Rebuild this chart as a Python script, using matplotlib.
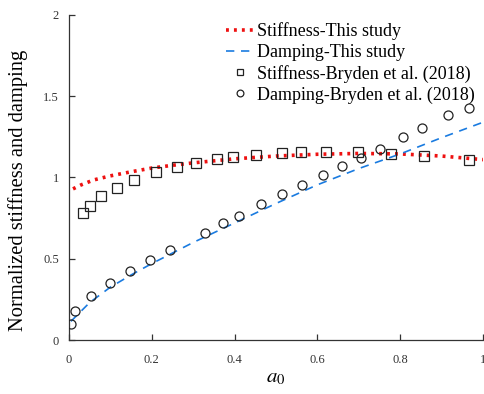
import matplotlib
matplotlib.use("Agg")
import matplotlib.pyplot as plt

# Model curves (this study)
stiff_x = [0.01, 0.03, 0.06, 0.10, 0.15, 0.20, 0.25, 0.30, 0.40, 0.50, 0.60, 0.70, 0.80, 0.90, 1.00]
stiff_y = [0.93, 0.955, 0.985, 1.01, 1.035, 1.058, 1.075, 1.09, 1.115, 1.132, 1.143, 1.148, 1.145, 1.132, 1.11]
damp_x = [0.005, 0.05, 0.10, 0.15, 0.20, 0.30, 0.40, 0.50, 0.60, 0.70, 0.80, 0.90, 1.00]
damp_y = [0.115, 0.23, 0.325, 0.40, 0.47, 0.60, 0.72, 0.84, 0.955, 1.055, 1.145, 1.245, 1.34]

# Bryden et al. (2018)
bry_stiff_x = [0.033, 0.051, 0.078, 0.115, 0.157, 0.21, 0.261, 0.306, 0.357, 0.396, 0.452,
               0.514, 0.56, 0.62, 0.698, 0.778, 0.857, 0.965]
bry_stiff_y = [0.78, 0.826, 0.886, 0.935, 0.982, 1.034, 1.066, 1.087, 1.116, 1.128, 1.14,
               1.151, 1.155, 1.157, 1.157, 1.145, 1.132, 1.11]
bry_damp_x = [0.004, 0.015, 0.054, 0.099, 0.147, 0.196, 0.245, 0.328, 0.373, 0.41, 0.464,
              0.514, 0.564, 0.614, 0.659, 0.705, 0.75, 0.807, 0.852, 0.915, 0.965]
bry_damp_y = [0.10, 0.18, 0.269, 0.349, 0.425, 0.492, 0.554, 0.658, 0.722, 0.765, 0.835,
              0.897, 0.954, 1.015, 1.073, 1.12, 1.175, 1.247, 1.303, 1.383, 1.43]

xticks = [0, 0.2, 0.4, 0.6, 0.8, 1]
xticklabels = ["0", "0.2", "0.4", "0.6", "0.8", "1"]
yticks = [0, 0.5, 1, 1.5, 2]
yticklabels = ["0", "0.5", "1", "1.5", "2"]

plt.rcParams['font.family'] = ['Liberation Serif', 'DejaVu Serif']
plt.rcParams['mathtext.fontset'] = 'stix'

fig = plt.figure(figsize=(4.85, 3.94), dpi=100)
ax = fig.add_axes([0.142, 0.137, 0.854, 0.825])

ax.plot(stiff_x, stiff_y, linestyle=(0, (0.8, 1.4)), color='#ee1111', lw=2.6,
        label='Stiffness-This study', zorder=3)
ax.plot(damp_x, damp_y, linestyle=(0, (5, 4)), color='#1a7be0', lw=1.2,
        label='Damping-This study', zorder=3)
ax.plot(bry_stiff_x, bry_stiff_y, linestyle='none', marker='s', ms=6.5, mfc='none',
        mec='#222222', mew=0.9, label='Stiffness-Bryden et al. (2018)', zorder=4)
ax.plot(bry_damp_x, bry_damp_y, linestyle='none', marker='o', ms=6.5, mfc='none',
        mec='#222222', mew=0.9, label='Damping-Bryden et al. (2018)', zorder=4)

ax.set_xlim(0, 1)
ax.set_ylim(0, 2)
ax.set_xticks(xticks)
ax.set_xticklabels(xticklabels)
ax.set_yticks(yticks)
ax.set_yticklabels(yticklabels)
ax.tick_params(direction='in', length=4, width=0.9, labelsize=9, colors='#333333')
ax.tick_params(axis='x', pad=10)
ax.tick_params(axis='y', pad=7)
for s in ['top', 'right']:
    ax.spines[s].set_visible(False)
for s in ['left', 'bottom']:
    ax.spines[s].set_color('#333333')
    ax.spines[s].set_linewidth(0.9)

ax.set_ylabel('Normalized stiffness and damping', fontsize=14.8, labelpad=8)
ax.yaxis.set_label_coords(-0.098, 0.46)
ax.set_xlabel(r'$a_0$', fontsize=15, labelpad=2)

leg = ax.legend(loc='upper right', bbox_to_anchor=(1.005, 1.01), frameon=False, fontsize=13,
                handlelength=1.6, handletextpad=0.1, labelspacing=0.2, markerscale=0.75,
                borderaxespad=0.2)

fig.savefig('out.png', dpi=100)
